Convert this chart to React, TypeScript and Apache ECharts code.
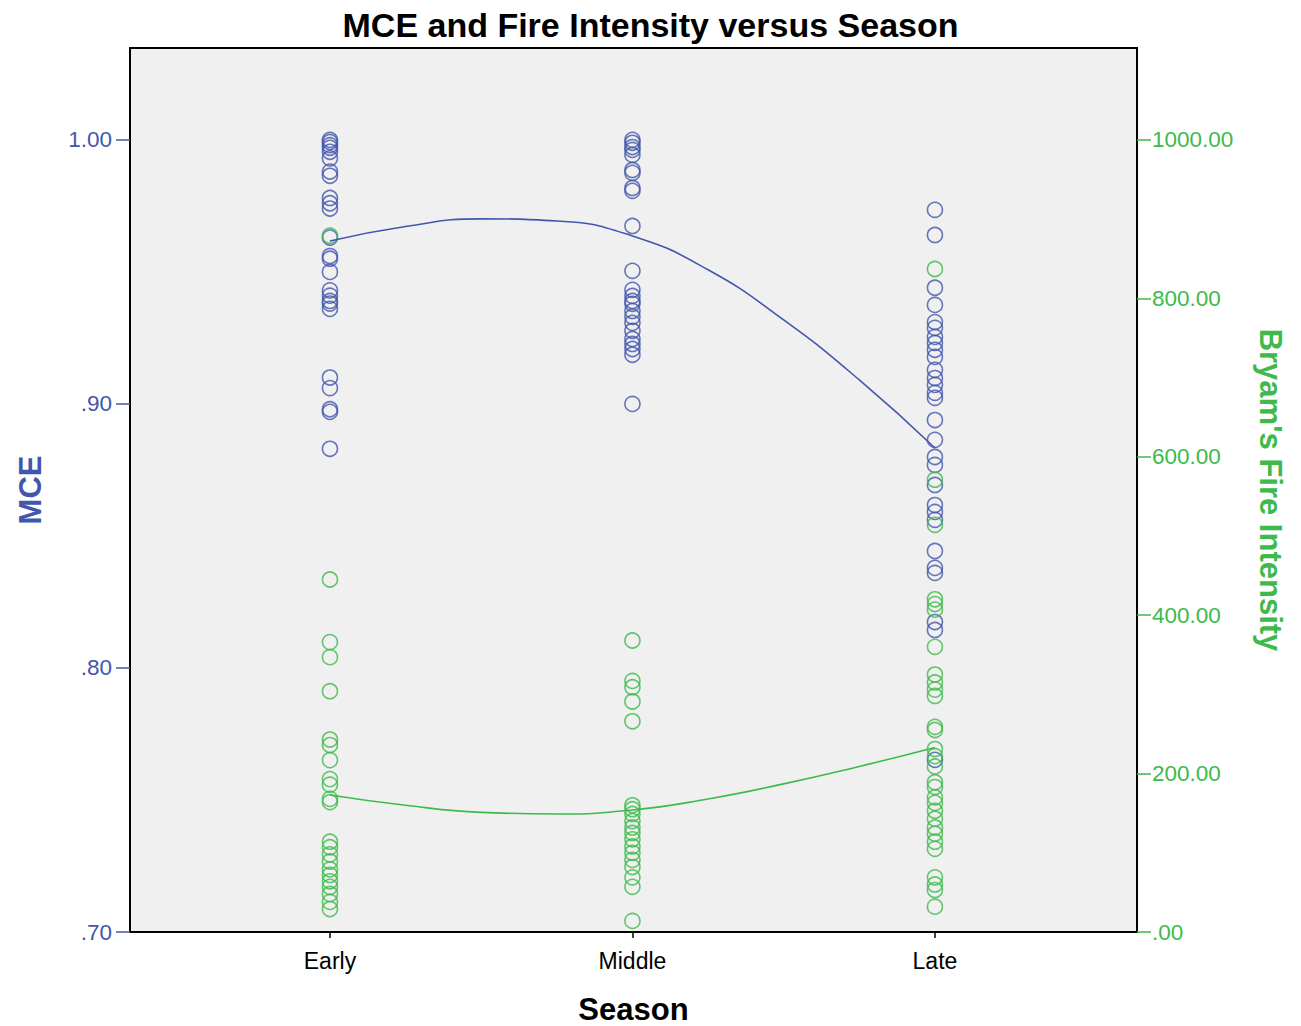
import React, { useEffect, useRef } from "react";
import * as echarts from "echarts";

// Season categories placed at x = 1, 2, 3
const seasons = ["Early", "Middle", "Late"];

// MCE observations per season
const mceEarly = [1.0, 0.9992, 0.998, 0.997, 0.9955, 0.993, 0.988, 0.9864, 0.978, 0.976, 0.974, 0.963, 0.956, 0.955, 0.95, 0.943, 0.941, 0.939, 0.938, 0.936, 0.91, 0.906, 0.898, 0.897, 0.883];
const mceMiddle = [1.0, 0.9989, 0.9973, 0.9962, 0.9943, 0.9886, 0.9875, 0.9818, 0.9807, 0.9674, 0.9504, 0.9432, 0.9409, 0.939, 0.9379, 0.9352, 0.933, 0.9307, 0.9277, 0.9246, 0.9227, 0.9208, 0.9186, 0.9];
const mceLate = [0.9735, 0.964, 0.944, 0.9375, 0.931, 0.9288, 0.9254, 0.9231, 0.9205, 0.9178, 0.9129, 0.9098, 0.9072, 0.9042, 0.9023, 0.8939, 0.8864, 0.8799, 0.8769, 0.8693, 0.8617, 0.8591, 0.8561, 0.8443, 0.8379, 0.836, 0.8174, 0.8144, 0.7652];

// Bryam's fire intensity observations per season
const fireEarly = [879, 445, 366, 347, 304, 243, 236, 217, 193, 186, 168, 164, 114, 107, 98, 89, 79, 72, 64, 57, 48, 38, 29];
const fireMiddle = [368, 317, 309, 291, 266, 160, 155, 149, 140, 132, 125, 117, 108, 100, 91, 82, 69, 57, 14];
const fireLate = [837, 571, 514, 420, 414, 407, 360, 325, 315, 306, 298, 259, 255, 231, 222, 209, 189, 183, 170, 163, 153, 143, 132, 124, 114, 105, 69, 60, 53, 32];

// Fitted trend curves
const fitX = [1, 1.25, 1.5, 1.75, 2, 2.25, 2.5, 2.75, 3];
const mceFit = [0.9617, 0.9672, 0.9701, 0.9693, 0.9636, 0.9508, 0.9318, 0.9091, 0.8833];
const fireFit = [173, 160, 151, 149, 154, 168, 187, 209, 233];

// Axis ticks
const mceTicks = [0.7, 0.8, 0.9, 1.0];
const fireTicks = [0, 200, 400, 600, 800, 1000];

const BLUE = "#4256ad";
const GREEN = "#3dba4b";
const FONT = "Liberation Sans, Arial, sans-serif";

const toPoints = (x: number, vals: number[]) => vals.map((v) => [x, v]);

export default function App() {
  const ref = useRef<HTMLDivElement>(null);

  useEffect(() => {
    if (!ref.current) return;
    const chart = echarts.init(ref.current, undefined, { renderer: "svg" });

    const mcePoints = [
      ...toPoints(1, mceEarly),
      ...toPoints(2, mceMiddle),
      ...toPoints(3, mceLate),
    ];
    const firePoints = [
      ...toPoints(1, fireEarly),
      ...toPoints(2, fireMiddle),
      ...toPoints(3, fireLate),
    ];

    const marker = (color: string) => ({
      symbol: "circle",
      symbolSize: 15,
      itemStyle: { color: "rgba(0,0,0,0)", borderColor: color, borderWidth: 1.6 },
    });

    chart.setOption({
      animation: false,
      backgroundColor: "#ffffff",
      textStyle: { fontFamily: FONT },
      title: {
        text: "MCE and Fire Intensity versus Season",
        left: "center",
        top: 3,
        textStyle: { fontFamily: FONT, fontSize: 34, fontWeight: "bold", color: "#000" },
      },
      grid: {
        left: 130,
        right: 164,
        top: 48,
        bottom: 94,
        outerBoundsMode: "none",
        show: true,
        backgroundColor: "#f0f0f0",
        borderColor: "#000",
        borderWidth: 2,
      },
      xAxis: {
        type: "value",
        min: 0.339,
        max: 3.668,
        name: "Season",
        nameLocation: "middle",
        nameGap: 62,
        nameTextStyle: { fontFamily: FONT, fontSize: 31, lineHeight: 31, fontWeight: "bold", color: "#000" },
        axisLine: { show: false },
        splitLine: { show: false },
        axisTick: { show: true, length: 6, customValues: [1, 2, 3], lineStyle: { color: "#000", width: 1.5 } },
        axisLabel: {
          customValues: [1, 2, 3],
          margin: 17,
          fontFamily: FONT,
          fontSize: 23,
          color: "#000",
          formatter: (v: number) => seasons[Math.round(v) - 1] ?? "",
        },
      },
      yAxis: [
        {
          type: "value",
          position: "left",
          min: 0.7,
          max: 1.0348,
          name: "MCE",
          nameLocation: "middle",
          nameGap: 84,
          nameTextStyle: { fontFamily: FONT, fontSize: 31, fontWeight: "bold", color: BLUE },
          axisLine: { show: false },
          splitLine: { show: false },
          axisTick: { show: true, length: 14, customValues: mceTicks, lineStyle: { color: BLUE, width: 1.5 } },
          axisLabel: {
            customValues: mceTicks,
            margin: 18,
            fontFamily: FONT,
            fontSize: 22.5,
            color: BLUE,
            formatter: (v: number) => {
              const s = v.toFixed(2);
              return v < 1 ? s.replace(/^0/, "") : s;
            },
          },
        },
        {
          type: "value",
          position: "right",
          min: 0,
          max: 1116,
          name: "Bryam's Fire Intensity",
          nameLocation: "middle",
          nameRotate: -90,
          nameGap: 118,
          nameTextStyle: { fontFamily: FONT, fontSize: 31, fontWeight: "bold", color: GREEN },
          axisLine: { show: false },
          splitLine: { show: false },
          axisTick: { show: true, length: 14, customValues: fireTicks, lineStyle: { color: GREEN, width: 1.5 } },
          axisLabel: {
            customValues: fireTicks,
            margin: 15,
            fontFamily: FONT,
            fontSize: 22.5,
            color: GREEN,
            formatter: (v: number) => {
              const s = v.toFixed(2);
              return v === 0 ? ".00" : s;
            },
          },
        },
      ],
      series: [
        {
          name: "MCE",
          type: "scatter",
          yAxisIndex: 0,
          data: mcePoints,
          ...marker(BLUE),
          z: 2,
        },
        {
          name: "Bryam's Fire Intensity",
          type: "scatter",
          yAxisIndex: 1,
          data: firePoints,
          ...marker(GREEN),
          z: 3,
        },
        {
          name: "MCE trend",
          type: "line",
          yAxisIndex: 0,
          smooth: true,
          showSymbol: false,
          data: fitX.map((x, i) => [x, mceFit[i]]),
          lineStyle: { color: BLUE, width: 1.6 },
          z: 4,
        },
        {
          name: "Fire trend",
          type: "line",
          yAxisIndex: 1,
          smooth: true,
          showSymbol: false,
          data: fitX.map((x, i) => [x, fireFit[i]]),
          lineStyle: { color: GREEN, width: 1.6 },
          z: 4,
        },
      ],
    });

    return () => chart.dispose();
  }, []);

  return (
    <div
      ref={ref}
      style={{ position: "absolute", left: 0, top: 0, width: 1301, height: 1026 }}
    />
  );
}
